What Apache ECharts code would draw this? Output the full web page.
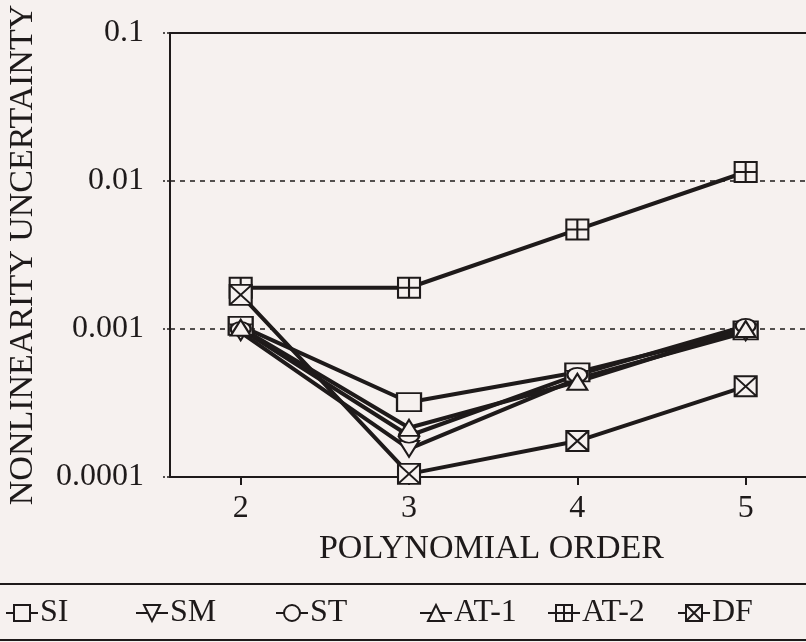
<!DOCTYPE html>
<html>
<head>
<meta charset="utf-8">
<style>
html,body{margin:0;padding:0;background:#f6f1ef;}
#c{width:806px;height:642px;}
</style>
<script src="https://cdn.jsdelivr.net/npm/echarts@6/dist/echarts.min.js"></script>
</head>
<body>
<div id="c"></div>
<script>
var orders = [2, 3, 4, 5];
var seriesNames = ['SI', 'SM', 'ST', 'AT-1', 'AT-2', 'DF'];
var SI  = [0.00105, 0.00032, 0.00051, 0.00098];
var SM  = [0.00095, 0.000155, 0.00046, 0.00095];
var ST  = [0.00100, 0.00019, 0.00049, 0.00105];
var AT1 = [0.00102, 0.000215, 0.00044, 0.00100];
var AT2 = [0.0019, 0.0019, 0.0047, 0.0115];
var DF  = [0.0017, 0.000105, 0.000175, 0.00041];
var yTickLabels = ['0.0001', '0.001', '0.01', '0.1'];
var xTickLabels = ['2', '3', '4', '5'];

var FONT = '"Liberation Serif", "Times New Roman", serif';
var INK = '#1e1a1a';
var BG = '#f6f1ef';

var symbols = {
  'SI': 'rect',
  'SM': 'path://M0,0L10,0L5,8Z',
  'ST': 'circle',
  'AT-1': 'path://M5,0L10,8L0,8Z',
  'AT-2': 'path://M0,0H10V10H0Z M5,0V10 M0,5H10',
  'DF': 'path://M0,0H10V10H0Z M0,0L10,10 M10,0L0,10'
};
var symSizes = {
  'SI': [24, 18], 'SM': [20, 16], 'ST': [20, 14], 'AT-1': [20, 16],
  'AT-2': [22, 20], 'DF': [22, 20]
};
var values = {'SI': SI, 'SM': SM, 'ST': ST, 'AT-1': AT1, 'AT-2': AT2, 'DF': DF};

function pairs(arr) { return orders.map(function (x, i) { return [x, arr[i]]; }); }

var series = seriesNames.map(function (n) {
  return {
    name: n, type: 'line', data: pairs(values[n]),
    symbol: symbols[n], symbolSize: symSizes[n], showAllSymbol: true,
    lineStyle: {color: INK, width: 4},
    itemStyle: {color: BG, borderColor: INK, borderWidth: 2},
    emphasis: {disabled: true}, animation: false, z: 3
  };
});

var legendLeft = [0, 130, 270, 414, 542, 672];
var legends = seriesNames.map(function (n, i) {
  return {
    data: [n], left: legendLeft[i], top: 592, orient: 'horizontal',
    itemWidth: 32, itemHeight: 20, itemGap: 2,
    textStyle: {fontFamily: FONT, fontSize: 32, color: INK, padding: [0, 0, 0, -3]},
    selectedMode: false
  };
});

var chart = echarts.init(document.getElementById('c'), null, {renderer: 'canvas'});
chart.setOption({
  backgroundColor: BG,
  animation: false,
  grid: {left: 170, top: 33, width: 643, height: 444, containLabel: false, outerBoundsMode: 'none'},
  legend: legends,
  xAxis: [{
    type: 'value', min: 1.58, max: 5.4, position: 'bottom',
    name: 'POLYNOMIAL ORDER', nameLocation: 'middle', nameGap: 55,
    nameTextStyle: {fontFamily: FONT, fontSize: 34, color: INK},
    axisLine: {show: true, lineStyle: {color: INK, width: 2}},
    axisTick: {show: true, length: 8, lineStyle: {color: INK, width: 2}, customValues: orders},
    axisLabel: {fontFamily: FONT, fontSize: 32, color: INK, margin: 16, customValues: orders,
      formatter: function (v) { return xTickLabels[orders.indexOf(v)]; }},
    splitLine: {show: false}
  }, {
    type: 'value', min: 1.58, max: 5.4, position: 'top',
    axisLine: {show: true, lineStyle: {color: INK, width: 2}},
    axisTick: {show: false}, axisLabel: {show: false}, splitLine: {show: false}
  }],
  yAxis: {
    type: 'log', logBase: 10, min: 0.0001, max: 0.1,
    name: 'NONLINEARITY UNCERTAINTY', nameLocation: 'middle', nameGap: 130, nameRotate: 90,
    nameTextStyle: {fontFamily: FONT, fontSize: 34, color: INK},
    axisLine: {show: true, lineStyle: {color: INK, width: 2}},
    axisTick: {show: true, length: 7, lineStyle: {color: INK, width: 1.5, type: [3, 2]}},
    axisLabel: {fontFamily: FONT, fontSize: 32, color: INK, margin: 26,
      formatter: function (v) { return yTickLabels[Math.round(Math.log10(v)) + 4]; }},
    splitLine: {show: true, lineStyle: {color: INK, width: 1.5, type: [5, 5]}},
    minorTick: {show: false}
  },
  graphic: [
    {type: 'line', shape: {x1: 0, y1: 584, x2: 806, y2: 584}, style: {stroke: INK, lineWidth: 2}, silent: true},
    {type: 'line', shape: {x1: 0, y1: 640, x2: 806, y2: 640}, style: {stroke: INK, lineWidth: 2}, silent: true}
  ],
  series: series
});
</script>
</body>
</html>
